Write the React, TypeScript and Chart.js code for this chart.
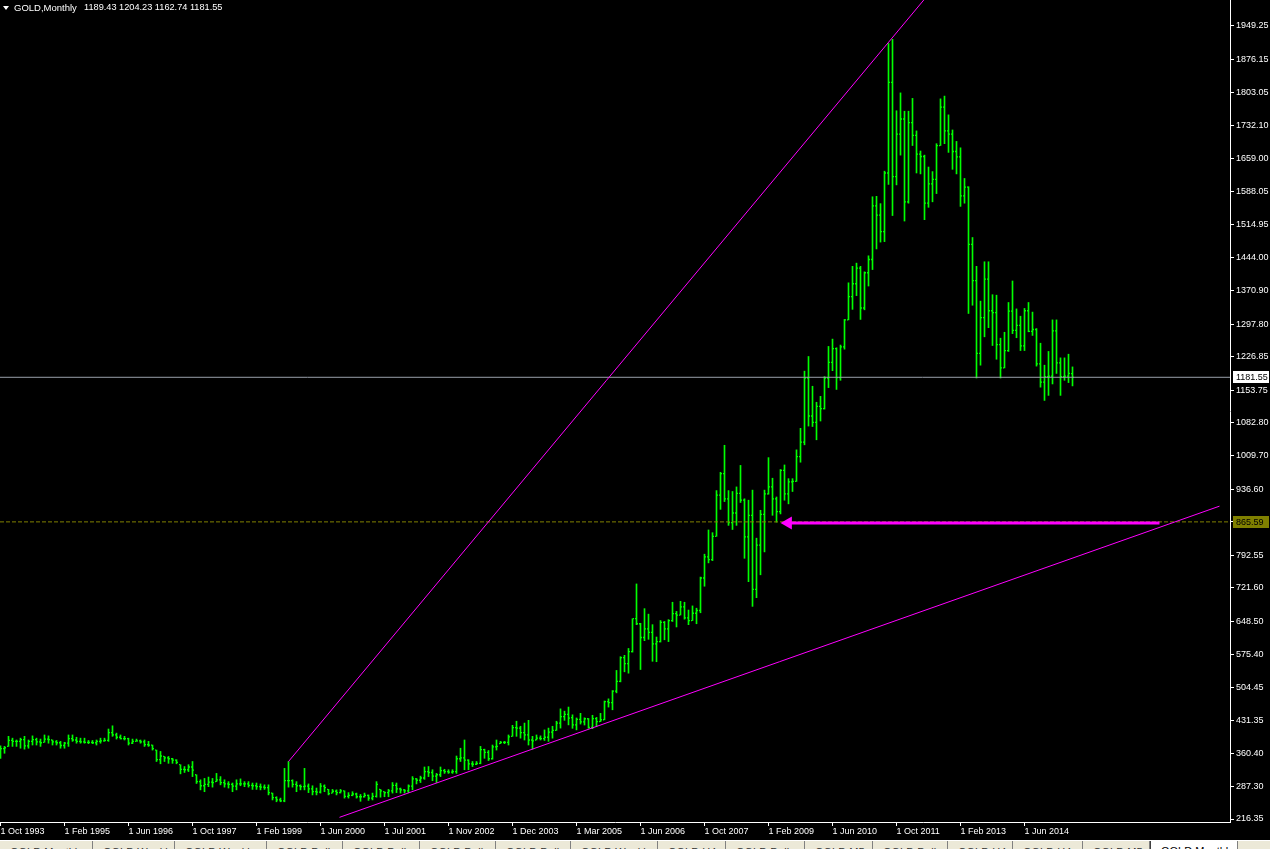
import React, { useEffect, useRef } from 'react';
import { Chart, registerables } from 'chart.js';

Chart.register(...registerables);

// ---------- text ----------
const symbolName = 'GOLD,Monthly';
const xTickLabels = [
  '1 Oct 1993', '1 Feb 1995', '1 Jun 1996', '1 Oct 1997', '1 Feb 1999', '1 Jun 2000',
  '1 Jul 2001', '1 Nov 2002', '1 Dec 2003', '1 Mar 2005', '1 Jun 2006', '1 Oct 2007',
  '1 Feb 2009', '1 Jun 2010', '1 Oct 2011', '1 Feb 2013', '1 Jun 2014',
];
const barsPerLabel = 16;
const yTickValues = [
  1949.25, 1876.15, 1803.05, 1732.1, 1659.0, 1588.05, 1514.95, 1444.0, 1370.9, 1297.8,
  1226.85, 1153.75, 1082.8, 1009.7, 936.6, 865.65, 792.55, 721.6, 648.5, 575.4, 504.45,
  431.35, 360.4, 287.3, 216.35,
];

// ---------- monthly OHLC ----------
const opens = [
  360,370,375,388,386,386,390,376,386,390,
  385,384,391,389,385,383,377,382,392,389,
  386,385,384,384,383,386,387,388,405,400,
  395,392,392,382,386,387,385,379,378,367,
  346,353,350,348,345,335,325,324,330,313,
  298,289,292,297,298,302,296,293,292,288,
  293,293,293,290,289,287,286,285,273,263,
  258,256,300,300,292,289,287,288,282,276,
  275,288,281,273,277,274,278,266,268,271,
  265,265,268,262,266,281,276,274,278,290,
  282,280,278,288,304,301,306,320,318,310,
  313,322,320,319,320,348,350,345,337,336,
  338,368,362,348,374,381,384,384,397,416,
  415,405,400,389,389,393,392,395,406,410,
  426,440,445,
  438.0,422.2,434.0,428.8,435.4,416.6,435.8,429.3,433.2,472.9,470.5,495.6,
  517,569,556,582,654,643,613,632,624,599,604,646,
  632,650,665,662,680,656,650,666,672,743,789,783,
  834,924,971,916,864,885,928,913,833,880,718,815,
  882,927,942,916,888,978,927,953,954,1008,1040,1180,
  1097,1083,1118,1113,1180,1214,1244,1181,1248,1307,1358,1386,
  1420,1333,1410,1439,1556,1536,1500,1628,1826,1620,1713,1746,
  1565,1738,1710,1669,1664,1562,1604,1614,1688,1772,1720,1713,
  1675,1663,1578,1597,1472,1393,1234,1312,1396,1327,1323,1253,
  1202,1240,1326,1284,1295,1250,1327,1282,1286,1211,1171,1183,
  1184,1283,1213,1183,1184,1189.43,
];
const highs = [
  376,375,397,393,389,393,397,389,398,393,
  391,400,398,389,388,386,384,400,400,395,
  393,393,388,388,389,393,393,413,420,404,
  400,397,393,391,391,389,389,386,378,367,
  364,353,353,349,346,335,331,335,342,313,
  302,305,308,305,316,309,302,298,295,302,
  304,298,298,295,295,293,291,291,273,265,
  262,327,342,302,298,291,327,293,289,284,
  294,291,281,281,280,281,278,274,276,273,
  270,273,269,273,298,281,276,281,296,295,
  284,281,291,309,305,310,330,331,324,316,
  330,325,324,324,354,371,389,346,342,342,
  375,369,366,378,389,386,386,400,421,430,
  419,426,432,397,400,398,411,415,419,430,
  457,452,461,
  444.0,437.2,447.3,437.4,436.0,443.0,438.4,447.2,474.2,478.9,497.0,541.0,
  571,574,589,654,730,644,676,664,641,614,650,648,
  652,690,670,692,690,673,682,677,745,795,848,842,
  934,974,1033,934,932,942,989,916,913,935,830,891,
  935,1006,961,920,980,990,960,960,1023,1070,1195,1227,
  1162,1127,1140,1183,1249,1265,1246,1252,1308,1388,1424,1431,
  1424,1412,1447,1576,1577,1561,1632,1911,1920,1764,1803,1763,
  1763,1791,1720,1676,1667,1641,1631,1692,1790,1796,1755,1722,
  1697,1683,1616,1598,1487,1424,1348,1434,1434,1362,1361,1267,
  1280,1345,1392,1331,1315,1332,1345,1324,1288,1256,1208,1238,
  1307,1307,1224,1224,1232,1204.23,
];
const lows = [
  349,360,375,375,375,371,369,371,378,378,
  375,384,382,378,378,371,371,375,386,382,
  382,382,381,381,378,382,386,386,397,391,
  391,389,378,381,386,382,375,375,367,342,
  337,342,338,338,337,315,318,320,309,294,
  280,276,287,286,298,291,286,284,276,280,
  289,287,286,281,281,280,281,269,258,254,
  254,254,286,286,276,280,280,274,269,269,
  273,276,269,273,269,273,262,262,267,262,
  255,264,257,258,264,264,265,265,273,274,
  273,273,274,280,293,296,303,309,300,296,
  309,316,316,316,316,342,324,324,331,335,
  337,349,344,347,367,381,381,378,397,397,
  393,389,378,369,389,389,388,386,393,410,
  415,432,422,
  414.5,411.1,423.8,421.7,414.5,413.7,418.0,429.0,433.1,460.9,455.0,492.0,
  516,538,535,581,641,543,606,609,561,560,603,608,
  604,648,636,662,653,641,650,643,667,725,776,781,
  834,893,910,858,849,858,908,786,735,681,700,750,
  800,926,880,865,883,913,905,932,954,996,1034,1075,
  1074,1045,1086,1112,1159,1196,1155,1175,1243,1307,1330,1360,
  1308,1329,1381,1417,1462,1477,1478,1603,1535,1602,1667,1523,
  1562,1688,1628,1626,1526,1553,1565,1583,1688,1692,1673,1636,
  1626,1555,1562,1321,1339,1180,1208,1270,1290,1251,1221,1180,
  1202,1238,1277,1268,1240,1240,1281,1273,1206,1160,1131,1142,
  1167,1190,1142,1175,1170,1162.74,
];
const closes = [
  370,372,388,386,386,390,376,386,390,385,
  383,391,390,385,383,377,382,392,389,386,
  385,384,384,383,386,387,388,405,400,395,
  392,392,382,386,387,385,379,378,370,346,
  354,350,348,345,340,325,324,330,323,298,
  289,292,297,296,302,296,293,292,288,293,
  293,293,290,289,287,286,285,274,263,258,
  256,300,300,292,289,287,288,282,276,275,
  288,285,272,277,274,278,266,268,271,265,
  265,268,262,266,292,278,274,278,290,282,
  280,278,288,304,301,306,320,318,310,313,
  322,320,319,320,348,350,345,337,336,338,
  368,362,348,374,375,384,384,396,416,415,
  405,400,389,387,393,392,395,406,410,426,
  440,445,437,
  422.2,434.0,428.8,435.4,416.6,435.8,429.3,433.2,472.9,470.5,495.6,517.0,
  569,556,582,654,643,613,632,624,599,604,646,632,
  650,665,662,680,656,650,666,672,743,789,783,834,
  924,971,916,864,885,928,913,833,880,718,815,882,
  927,942,916,888,978,927,953,954,1008,1040,1180,1097,
  1083,1118,1113,1180,1214,1244,1181,1248,1307,1358,1386,1420,
  1333,1410,1439,1556,1536,1500,1628,1826,1620,1713,1746,1565,
  1738,1710,1669,1664,1562,1604,1614,1688,1772,1720,1713,1675,
  1663,1578,1597,1472,1393,1234,1312,1396,1327,1323,1253,1202,
  1240,1326,1284,1295,1250,1327,1282,1286,1211,1171,1183,1184,
  1283,1213,1183,1184,1190,1181.55,
];

// ---------- drawn objects (anchored in bar index / price) ----------
const levelPrice = 865.59;
const upperTrend = [{ x: 72, y: 342 }, { x: 225, y: 1945 }];
const lowerTrend = [{ x: 84.75, y: 220 }, { x: 304.75, y: 900 }];
const arrowShaft = [{ x: 289.75, y: 863 }, { x: 197.5, y: 863 }];
const arrowHead = [{ x: 196.9, y: 863 }];

// ---------- terminal tabs ----------
const tabNames = [
  'GOLD,Monthly', 'GOLD,Weekly', 'GOLD,Weekly', 'GOLD,Daily', 'GOLD,Daily', 'GOLD,Daily',
  'GOLD,Daily', 'GOLD,Weekly', 'GOLD,H4', 'GOLD,Daily', 'GOLD,M5', 'GOLD,Daily', 'GOLD,H4',
  'GOLD,H4', 'GOLD,M5', 'GOLD,Monthly',
];
const tabEdges = [0, 93, 175, 267, 343, 420, 496, 571, 658, 726, 805, 873, 948, 1013, 1083, 1150, 1238];
const activeTab = 15;

const X_MIN = -0.125;
const X_MAX = 307.375;
const Y_MIN = 209.8;
const Y_MAX = 2006.0;
const tickOffset = 0.25;

const BAR_COLOR = '#00ff00';
const MAGENTA = '#ff00ff';
const FONT = '"Liberation Sans", Arial, sans-serif';

const last = closes.length - 1;

function extendLine(pts: { x: number; y: number }[], toX: number) {
  const [a, b] = pts;
  const k = (b.y - a.y) / (b.x - a.x);
  return [a, { x: toX, y: a.y + k * (toX - a.x) }];
}

const priceBoxes = {
  id: 'priceBoxes',
  afterDraw(chart: any) {
    const { ctx, chartArea, scales } = chart;
    const boxes = [
      { value: closes[last], bg: '#ffffff', fg: '#000000' },
      { value: levelPrice, bg: '#808000', fg: '#000000' },
    ];
    ctx.save();
    ctx.font = '9px ' + FONT;
    ctx.textBaseline = 'middle';
    ctx.textAlign = 'left';
    for (const b of boxes) {
      const y = Math.round(scales.y.getPixelForValue(b.value));
      ctx.fillStyle = b.bg;
      ctx.fillRect(chartArea.right + 3, y - 6, 36, 12);
      ctx.fillStyle = b.fg;
      ctx.fillText(b.value.toFixed(2), chartArea.right + 6, y + 0.5);
    }
    ctx.restore();
  },
};

export default function App() {
  const ref = useRef<HTMLCanvasElement>(null);

  useEffect(() => {
    const canvas = ref.current;
    if (!canvas) return;
    const idx = highs.map((_, i) => i);
    const line = (data: any[], color: string, width: number, dash: number[] = []) => ({
      type: 'line',
      data,
      borderColor: color,
      borderWidth: width,
      borderDash: dash,
      pointRadius: 0,
      fill: false,
      tension: 0,
    });
    const chart = new Chart(canvas, {
      type: 'bar',
      data: {
        datasets: [
          {
            type: 'line',
            data: arrowHead,
            showLine: false,
            pointStyle: 'triangle',
            rotation: -90,
            pointRadius: 7.5,
            pointBackgroundColor: MAGENTA,
            pointBorderColor: MAGENTA,
            pointBorderWidth: 0,
          },
          line(arrowShaft, MAGENTA, 3),
          line(extendLine(upperTrend, 245), MAGENTA, 1),
          line(lowerTrend, MAGENTA, 1),
          line([{ x: X_MIN, y: closes[last] }, { x: X_MAX, y: closes[last] }], '#9aa0aa', 1),
          line([{ x: X_MIN, y: levelPrice }, { x: X_MAX, y: levelPrice }], '#808000', 1, [4, 2]),
          {
            type: 'line',
            data: idx.map((i) => ({ x: i + tickOffset, y: closes[i] })),
            showLine: false,
            pointStyle: 'line',
            pointRadius: 0.5,
            pointBorderWidth: 1.3,
            pointBorderColor: BAR_COLOR,
          },
          {
            type: 'line',
            data: idx.map((i) => ({ x: i - tickOffset, y: opens[i] })),
            showLine: false,
            pointStyle: 'line',
            pointRadius: 0.5,
            pointBorderWidth: 1.3,
            pointBorderColor: BAR_COLOR,
          },
          {
            type: 'bar',
            data: idx.map((i) => ({ x: i, y: [lows[i], highs[i]] })),
            backgroundColor: BAR_COLOR,
            borderWidth: 0,
            barThickness: 1,
          },
        ] as any,
      },
      options: {
        animation: false,
        responsive: false,
        events: [],
        layout: { padding: 0, autoPadding: false },
        plugins: {
          legend: { display: false },
          tooltip: { enabled: false },
          title: { display: false },
        },
        scales: {
          x: {
            type: 'linear',
            min: X_MIN,
            max: X_MAX,
            offset: false,
            bounds: 'data',
            grid: {
              offset: false,
              drawOnChartArea: false,
              drawTicks: true,
              tickLength: 4,
              color: '#ffffff',
            },
            border: { display: true, color: '#ffffff', width: 1 },
            ticks: {
              color: '#ffffff',
              font: { family: FONT, size: 9 },
              align: 'start',
              padding: 0,
              autoSkip: false,
              maxRotation: 0,
              minRotation: 0,
              callback: (_v: any, i: number) => xTickLabels[i],
            },
            afterBuildTicks: (s: any) => {
              s.ticks = xTickLabels.map((_, k) => ({ value: k * barsPerLabel }));
            },
            afterFit: (s: any) => {
              s.height = 18;
              s.paddingLeft = 0;
              s.paddingRight = 0;
            },
          },
          y: {
            type: 'linear',
            position: 'right',
            min: Y_MIN,
            max: Y_MAX,
            bounds: 'data',
            grid: {
              drawOnChartArea: false,
              drawTicks: true,
              tickLength: 4,
              color: '#ffffff',
            },
            border: { display: true, color: '#ffffff', width: 1 },
            ticks: {
              color: '#ffffff',
              font: { family: FONT, size: 9 },
              padding: 2,
              autoSkip: false,
              callback: (v: any) => Number(v).toFixed(2),
            },
            afterBuildTicks: (s: any) => {
              s.ticks = yTickValues.map((v) => ({ value: v }));
            },
            afterFit: (s: any) => {
              s.width = 40;
              s.paddingTop = 0;
              s.paddingBottom = 0;
            },
          },
        },
      } as any,
      plugins: [priceBoxes],
    } as any);
    return () => chart.destroy();
  }, []);

  const headerNums = [opens[last], highs[last], lows[last], closes[last]]
    .map((v) => v.toFixed(2))
    .join(' ');

  return (
    <div
      style={{
        position: 'fixed',
        left: 0,
        top: 0,
        width: 1270,
        height: 849,
        background: '#000',
        overflow: 'hidden',
      }}
    >
      <canvas
        ref={ref}
        width={1270}
        height={840}
        style={{ position: 'absolute', left: 0, top: 0, width: 1270, height: 840, background: '#000' }}
      />
      <div
        style={{
          position: 'absolute',
          left: 3,
          top: 6,
          width: 0,
          height: 0,
          borderLeft: '3px solid transparent',
          borderRight: '3px solid transparent',
          borderTop: '4px solid #fff',
        }}
      />
      <div
        style={{
          position: 'absolute',
          left: 14,
          top: 2,
          color: '#fff',
          fontFamily: FONT,
          fontSize: 9.5,
          lineHeight: 'normal',
          whiteSpace: 'pre',
        }}
      >
        {symbolName}
      </div>
      <div
        style={{
          position: 'absolute',
          left: 84,
          top: 2,
          color: '#fff',
          fontFamily: FONT,
          fontSize: 9.2,
          lineHeight: 'normal',
          whiteSpace: 'pre',
        }}
      >
        {headerNums}
      </div>
      <div
        style={{
          position: 'absolute',
          left: 0,
          top: 840,
          width: 1270,
          height: 9,
          background: '#ece9d8',
          borderTop: '1px solid #ffffff',
          boxSizing: 'border-box',
          overflow: 'hidden',
        }}
      >
        {tabNames.map((name, k) => {
          const active = k === activeTab;
          return (
            <div
              key={k}
              style={{
                position: 'absolute',
                left: tabEdges[k],
                top: active ? -1 : 0,
                width: tabEdges[k + 1] - tabEdges[k],
                height: 14,
                boxSizing: 'border-box',
                background: active ? '#ffffff' : 'transparent',
                borderLeft: active ? '1px solid #404040' : 'none',
                borderRight: '1px solid #808080',
                fontFamily: FONT,
                fontSize: 11,
                color: active ? '#000' : '#333',
                paddingLeft: 10,
                paddingTop: 5,
                lineHeight: '12px',
                whiteSpace: 'nowrap',
                overflow: 'hidden',
              }}
            >
              {name}
            </div>
          );
        })}
      </div>
    </div>
  );
}
